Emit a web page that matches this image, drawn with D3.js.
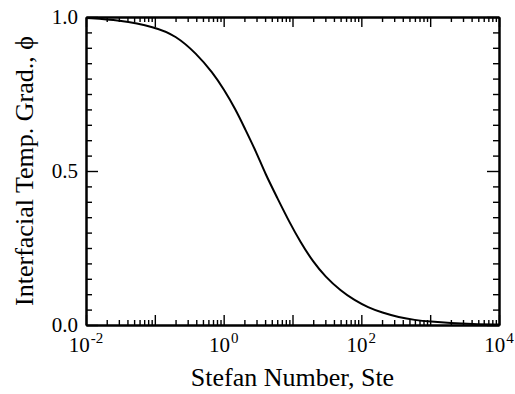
<!DOCTYPE html>
<html lang="en">
<head>
    <meta charset="UTF-8">
    <title>Stefan Number</title>
    <script src="https://d3js.org/d3.v7.min.js"></script>
    <style>
    body{
        margin: 0;
        background: #fff;
    }
    .axis path,
    .axis line{
        fill: none;
        stroke: black;
    }
    .axis path{
        stroke-width: 2px;
    }
    .axis line{
        stroke-width: 1.4px;
    }
    text{
        font-family: "Liberation Serif", "Times New Roman", serif;
        fill: black;
    }
    .curve{
        fill: none;
        stroke: black;
        stroke-width: 2px;
    }
    </style>
</head>
<body>
    <script>
    var width = 515;
    var height = 394;
    var margin = {top: 17, right: 16, bottom: 69, left: 86};

    // data
    var steValues = [0.01, 0.03, 0.1, 0.2, 0.4, 0.7, 1.0, 1.5, 2.0, 3.0, 4.0, 6.0, 9.0,
        13, 20, 30, 50, 80, 125, 200, 350, 600, 1000, 2000, 4000, 10000];
    var phiValues = [0.997, 0.990, 0.968, 0.940, 0.882, 0.818, 0.766, 0.699, 0.641, 0.560, 0.492, 0.413, 0.334,
        0.270, 0.204, 0.157, 0.111, 0.080, 0.057, 0.040, 0.025, 0.016, 0.011, 0.006, 0.003, 0.0015];

    var xMajorTicks = [1e-2, 1e-1, 1e0, 1e1, 1e2, 1e3, 1e4];
    var xLabelExponents = [-2, 0, 2, 4];
    var yMajorTicks = [0, 0.5, 1.0];
    var yTickLabels = ["0.0", "0.5", "1.0"];

    var xMinorTicks = [];
    for (var e = -2; e < 4; e++) {
        for (var k = 2; k <= 9; k++) xMinorTicks.push(k * Math.pow(10, e));
    }
    var yMinorTicks = d3.range(0.05, 1.0, 0.05).filter(function(v) {
        return Math.abs(v - 0.5) > 1e-6;
    });

    var svg = d3.select("body")
        .append("svg")
        .attr("width", width)
        .attr("height", height);

    var xScale = d3.scaleLog()
        .domain([1e-2, 1e4])
        .range([margin.left, width - margin.right]);

    var yScale = d3.scaleLinear()
        .domain([0, 1])
        .range([height - margin.bottom, margin.top]);

    var x0 = margin.left, x1 = width - margin.right;
    var y0 = height - margin.bottom, y1 = margin.top;

    function addAxis(axis, transform) {
        return svg.append("g")
            .attr("class", "axis")
            .attr("transform", transform)
            .call(axis);
    }

    // minor ticks (all four sides, inward)
    addAxis(d3.axisBottom(xScale).tickValues(xMinorTicks).tickSize(-5).tickSizeOuter(0).tickFormat(""),
        "translate(0," + y0 + ")");
    addAxis(d3.axisTop(xScale).tickValues(xMinorTicks).tickSize(-5).tickSizeOuter(0).tickFormat(""),
        "translate(0," + y1 + ")");
    addAxis(d3.axisLeft(yScale).tickValues(yMinorTicks).tickSize(-6).tickSizeOuter(0).tickFormat(""),
        "translate(" + x0 + ",0)");
    addAxis(d3.axisRight(yScale).tickValues(yMinorTicks).tickSize(-6).tickSizeOuter(0).tickFormat(""),
        "translate(" + x1 + ",0)");

    // major ticks
    addAxis(d3.axisBottom(xScale).tickValues(xMajorTicks).tickSize(-10).tickSizeOuter(0).tickFormat(""),
        "translate(0," + y0 + ")");
    addAxis(d3.axisTop(xScale).tickValues(xMajorTicks).tickSize(-10).tickSizeOuter(0).tickFormat(""),
        "translate(0," + y1 + ")");
    var yLeft = addAxis(d3.axisLeft(yScale).tickValues(yMajorTicks).tickSize(-12).tickSizeOuter(0)
            .tickFormat(function(d, i) { return yTickLabels[i]; }),
        "translate(" + x0 + ",0)");
    addAxis(d3.axisRight(yScale).tickValues(yMajorTicks).tickSize(-12).tickSizeOuter(0).tickFormat(""),
        "translate(" + x1 + ",0)");

    yLeft.selectAll("text")
        .attr("x", -8)
        .attr("dy", "0.32em")
        .style("font-size", "21px");

    // x tick labels with superscripts
    var xLab = svg.append("g").selectAll("text")
        .data(xLabelExponents).enter()
        .append("text")
        .attr("text-anchor", "middle")
        .attr("x", function(d) { return xScale(Math.pow(10, d)); })
        .attr("y", y0 + 27)
        .style("font-size", "21px");
    xLab.append("tspan").text("10");
    xLab.append("tspan")
        .attr("dx", 1)
        .attr("dy", -9)
        .style("font-size", "15px")
        .text(function(d) { return d; });

    // curve
    var pts = steValues.map(function(s, i) { return [s, phiValues[i]]; });
    var line = d3.line()
        .x(function(d) { return xScale(d[0]); })
        .y(function(d) { return yScale(d[1]); })
        .curve(d3.curveBasis);

    svg.append("path")
        .attr("class", "curve")
        .attr("d", line(pts));

    // axis titles
    svg.append("text")
        .attr("text-anchor", "middle")
        .attr("x", (x0 + x1) / 2)
        .attr("y", 386)
        .style("font-size", "26px")
        .text("Stefan Number, Ste");

    svg.append("text")
        .attr("text-anchor", "middle")
        .attr("transform", "translate(33," + ((y0 + y1) / 2) + ") rotate(-90)")
        .style("font-size", "26px")
        .text("Interfacial Temp. Grad., \u03d5");
    </script>
</body>
</html>
